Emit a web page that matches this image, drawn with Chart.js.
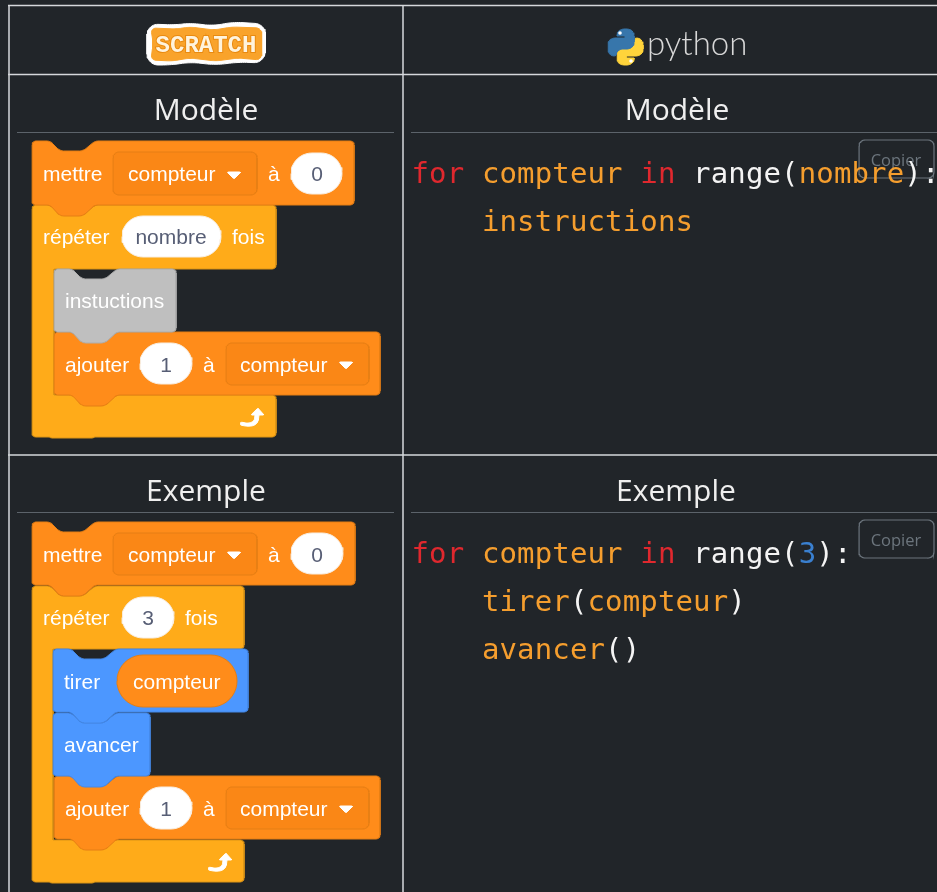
<!DOCTYPE html>
<html>
<head>
<meta charset="utf-8">
<script src="https://cdn.jsdelivr.net/npm/chart.js@4"></script>
<style>
    html, body { margin: 0; padding: 0; background: #212529; overflow: hidden; }
    canvas { display: block; }
</style>
</head>
<body>
<canvas id="sheet" width="937" height="892"></canvas>
<script>
// texts of the table
const headerTitles = ["Modèle", "Exemple"];
const modelBlockLabels = ["mettre", "compteur", "à", "0", "répéter", "nombre", "fois", "instuctions", "ajouter", "1", "à", "compteur"];
const exampleBlockLabels = ["mettre", "compteur", "à", "0", "répéter", "3", "fois", "tirer", "compteur", "avancer", "ajouter", "1", "à", "compteur"];
const buttonLabel = "Copier";
const modelCode = [
    [["for ", "kw"], ["compteur ", "var"], ["in ", "kw"], ["range(", "txt"], ["nombre", "var"], ["):", "txt"]],
    [["    ", "txt"], ["instructions", "var"]]
];
const exampleCode = [
    [["for ", "kw"], ["compteur ", "var"], ["in ", "kw"], ["range(", "txt"], ["3", "num"], ["):", "txt"]],
    [["    ", "txt"], ["tirer", "var"], ["(", "txt"], ["compteur", "var"], [")", "txt"]],
    [["    ", "txt"], ["avancer", "var"], ["()", "txt"]]
];

const ORANGE = ["#FF8C1A", "#E57E14"];
const CONTROL = ["#FFAB19", "#DB9416"];
const BLUE = ["#4C97FF", "#4488E6"];
const GREY = ["#BFBFBF", "#ADADAD"];
const CODE_COLORS = { kw: "#E0282E", var: "#F59E2E", txt: "#F4F4F4", num: "#3A80D0" };
const LABEL_FONT = "21px 'Liberation Sans'";
const CODE_FONT = "29px 'DejaVu Sans Mono'";

// turn a corner list into a smooth outline (conic corners, true arcs on square corners)
function rounded(vertices, radius) {
    const out = [];
    const n = vertices.length;
    const w = 0.7071;
    vertices.forEach((v, i) => {
        const prev = vertices[(i + n - 1) % n];
        const next = vertices[(i + 1) % n];
        const r = v[2] === undefined ? radius : v[2];
        const d1 = Math.hypot(v[0] - prev[0], v[1] - prev[1]);
        const d2 = Math.hypot(v[0] - next[0], v[1] - next[1]);
        const t1 = Math.min(r, d1 / 2) / d1;
        const t2 = Math.min(r, d2 / 2) / d2;
        const a = [v[0] + (prev[0] - v[0]) * t1, v[1] + (prev[1] - v[1]) * t1];
        const b = [v[0] + (next[0] - v[0]) * t2, v[1] + (next[1] - v[1]) * t2];
        for (let s = 0; s <= 10; s++) {
            const u = s / 10;
            const k0 = (1 - u) * (1 - u), k1 = 2 * u * (1 - u) * w, k2 = u * u;
            const sum = k0 + k1 + k2;
            out.push({
                x: (k0 * a[0] + k1 * v[0] + k2 * b[0]) / sum,
                y: (k0 * a[1] + k1 * v[1] + k2 * b[1]) / sum
            });
        }
    });
    out.push(out[0]);
    return out;
}

function notchTop(x, y) {
    return [[x + 18, y, 3], [x + 28, y + 10, 4], [x + 51, y + 10, 4], [x + 63, y, 3]];
}
function tabBottom(x, y) {
    return [[x + 63, y, 3], [x + 51, y + 11, 4], [x + 28, y + 11, 4], [x + 18, y, 3]];
}
function stackBlock(x0, y0, x1, y1) {
    return [[x0, y0], ...notchTop(x0, y0), [x1, y0], [x1, y1], ...tabBottom(x0, y1), [x0, y1]];
}
function loopBlock(x0, y0, x1, armY, inner, lowY, y1) {
    return [[x0, y0], ...notchTop(x0, y0), [x1, y0], [x1, armY], [inner, armY, 0], [inner, lowY, 0], [x1, lowY], [x1, y1],
        [x0 + 62, y1, 1], [x0 + 61, y1 + 1, 1], [x0 + 19, y1 + 1, 1], [x0 + 18, y1, 1], [x0, y1]];
}
function box(x0, y0, x1, y1, r) {
    return [[x0, y0, r], [x1, y0, r], [x1, y1, r], [x0, y1, r]];
}
function turnArrow(x, y) {
    return [[x + 8, y - 10, 1], [x + 14, y - 3, 1], [x + 9, y - 3, 0], [x + 8, y + 5, 6], [x + 1, y + 9, 6], [x - 10, y + 7, 2],
        [x - 9, y + 4, 1], [x - 2, y + 5.5, 3], [x + 4.5, y + 3, 4], [x + 5, y - 3, 0], [x + 1, y - 3, 1]];
}

const shapes = [];
function addShape(vertices, radius, fill, stroke, width) {
    shapes.push({
        data: rounded(vertices, radius),
        fill: fill ? "shape" : false,
        backgroundColor: fill || "transparent",
        borderColor: stroke || fill,
        borderWidth: width === undefined ? 1 : width,
        pointRadius: 0,
        showLine: true,
        tension: 0,
        clip: false
    });
}
function addRule(x0, y0, x1, y1, color, width) {
    shapes.push({
        data: [{ x: x0, y: y0 }, { x: x1, y: y1 }],
        borderColor: color,
        borderWidth: width,
        pointRadius: 0,
        showLine: true,
        clip: false
    });
}

// first dataset is painted last, so the top layer comes first
function addDropdown(x0, y0, x1, y1, triX, triY) {
    addShape([[triX, triY], [triX + 14, triY], [triX + 7, triY + 7]], 1.5, "#FFFFFF");
    addShape(box(x0, y0, x1, y1, 6), 6, "#FA8716", "#E57E14");
}
function addPill(x0, y0, x1, y1) {
    addShape(box(x0, y0, x1, y1, 21), 21, "#FFFFFF", "#F8EEE2");
}

// scratch column, modele
addDropdown(113, 152, 257, 195, 227, 172);
addPill(291, 153, 342, 194);
addPill(122, 216, 221, 257);
addPill(140, 343, 192, 384);
addDropdown(226, 343, 369, 385, 339, 362);
addShape(turnArrow(250, 418), 2, "#FFFFFF");
addShape(stackBlock(32, 141, 354, 205), 4, ...ORANGE);
addShape(stackBlock(54, 269, 176, 332), 4, ...GREY);
addShape(stackBlock(54, 332, 380, 395), 4, ...ORANGE);
addShape(loopBlock(32, 205, 276, 269, 54, 395, 437), 4, ...CONTROL);

// scratch column, exemple
addDropdown(113, 533, 257, 575, 227, 552);
addPill(291, 533, 343, 574);
addPill(122, 597, 174, 638);
addShape(box(117, 655, 237, 707, 26), 26, "#FF8C1A", "#E57E14");
addPill(140, 787, 192, 829);
addDropdown(226, 787, 369, 829, 339, 806);
addShape(turnArrow(218, 863), 2, "#FFFFFF");
addShape(stackBlock(32, 522, 355, 585), 4, ...ORANGE);
addShape(stackBlock(53, 649, 248, 712), 4, ...BLUE);
addShape(stackBlock(53, 713, 150, 776), 4, ...BLUE);
addShape(stackBlock(54, 776, 380, 839), 4, ...ORANGE);
addShape(loopBlock(32, 586, 244, 649, 53, 840, 882), 4, ...CONTROL);

// copy buttons
addShape(box(859, 140, 934, 178, 6), 6, null, "#6C757D", 1.2);
addShape(box(859, 520, 934, 558, 6), 6, null, "#6C757D", 1.2);

// scratch logo, wobbly sticker outline
addShape([[151, 28], [176, 29], [190, 27], [214, 30], [232, 27], [261, 28], [262, 43], [261, 60], [238, 58], [216, 61], [190, 58], [172, 61], [151, 60], [153, 44]], 5, "#F9A32B");
addShape([[148, 24], [176, 25], [190, 23], [214, 26], [232, 22], [265, 24], [266, 43], [264, 63], [238, 62], [216, 65], [190, 62], [172, 65], [148, 65], [146, 44]], 10, "#FFFFFF");

// python logo
const snake = [[617, 33], [621, 29], [630, 29], [634, 33], [634, 45], [630, 49], [620, 49], [616, 53], [616, 56], [612, 56], [608, 52], [608, 42], [612, 38], [625, 38, 0], [625, 36, 0], [617, 36, 0]];
shapes.push({
    data: [{ x: 620, y: 33 }, { x: 631, y: 61 }],
    showLine: false,
    pointRadius: 1.8,
    pointBackgroundColor: "#FFFFFF",
    pointBorderWidth: 0,
    clip: false
});
addShape(snake, 3, "#3776AB");
addShape(snake.map(p => [1251 - p[0], 94 - p[1], p[2]]), 3, "#FFD43B");

// table rules
addRule(17, 132.5, 394, 132.5, "#5C636A", 1);
addRule(411, 132.5, 937, 132.5, "#5C636A", 1);
addRule(17, 512.5, 394, 512.5, "#5C636A", 1);
addRule(411, 512.5, 937, 512.5, "#5C636A", 1);
addRule(8, 5.5, 937, 5.5, "#D5D8DB", 1.5);
addRule(8, 74.5, 937, 74.5, "#D5D8DB", 1.5);
addRule(8, 455, 937, 455, "#D5D8DB", 1.5);
addRule(9, 5, 9, 892, "#D5D8DB", 1.5);
addRule(403, 5, 403, 892, "#D5D8DB", 1.5);

const modelLabelSpots = [[43, 181], [128, 181], [268, 181], [317, 181, "center"], [43, 244], [171, 244, "center"], [232, 244], [65, 308], [65, 372], [166, 372, "center"], [203, 372], [240, 372]];
const exampleLabelSpots = [[43, 562], [128, 562], [268, 562], [317, 562, "center"], [43, 625], [148, 625, "center"], [185, 625], [64, 689], [133, 689], [64, 752], [65, 816], [166, 816, "center"], [203, 816], [240, 816]];
const inputLabels = ["0", "1", "3", "nombre"];

const tablePainter = {
    id: "tablePainter",
    afterDatasetsDraw(chart) {
        const ctx = chart.ctx;
        const px = v => chart.scales.x.getPixelForValue(v);
        const py = v => chart.scales.y.getPixelForValue(v);

        function put(text, x, y, font, color, align) {
            ctx.font = font;
            ctx.fillStyle = color;
            ctx.textAlign = align || "left";
            ctx.textBaseline = "alphabetic";
            ctx.fillText(text, px(x), py(y));
        }

        ctx.save();

        // column headers
        const headFont = "30px 'Open Sans'";
        put(headerTitles[0], 206, 120, headFont, "#EFEFEF", "center");
        put(headerTitles[0], 677, 120, headFont, "#EFEFEF", "center");
        put(headerTitles[1], 206, 501, headFont, "#EFEFEF", "center");
        put(headerTitles[1], 676, 501, headFont, "#EFEFEF", "center");

        // logos
        const logoFont = "bold 24px 'Liberation Mono'";
        ctx.lineWidth = 2;
        ctx.strokeStyle = "#E98A10";
        ctx.font = logoFont;
        ctx.textAlign = "center";
        ctx.strokeText("SCRATCH", px(206), py(52));
        put("SCRATCH", 206, 52, logoFont, "#FFF3DC", "center");
        put("python", 647, 55, "300 33px 'Lato'", "#D8D8D8");

        // block labels
        modelBlockLabels.forEach((t, i) => {
            const s = modelLabelSpots[i];
            put(t, s[0], s[1], LABEL_FONT, inputLabels.includes(t) ? "#575E75" : "#FFFFFF", s[2]);
        });
        exampleBlockLabels.forEach((t, i) => {
            const s = exampleLabelSpots[i];
            put(t, s[0], s[1], LABEL_FONT, inputLabels.includes(t) ? "#575E75" : "#FFFFFF", s[2]);
        });

        // copy buttons sit under the code
        put(buttonLabel, 896, 166, "16.5px 'Open Sans'", "#6C757D", "center");
        put(buttonLabel, 896, 546, "16.5px 'Open Sans'", "#6C757D", "center");

        // code
        function putCode(lines, firstBase) {
            ctx.letterSpacing = "0.14px";
            lines.forEach((tokens, row) => {
                let col = 0;
                tokens.forEach(tok => {
                    put(tok[0], 411.5 + col * 17.6, firstBase + row * 48, CODE_FONT, CODE_COLORS[tok[1]]);
                    col += tok[0].length;
                });
            });
            ctx.letterSpacing = "0px";
        }
        putCode(modelCode, 183);
        putCode(exampleCode, 563);

        ctx.restore();
    }
};

new Chart(document.getElementById("sheet").getContext("2d"), {
    type: "scatter",
    data: { datasets: shapes },
    options: {
        responsive: false,
        animation: false,
        events: [],
        layout: { padding: 0, autoPadding: false },
        plugins: { legend: { display: false }, tooltip: { enabled: false } },
        scales: {
            x: { type: "linear", min: 0, max: 937, display: false },
            y: { type: "linear", min: 0, max: 892, reverse: true, display: false }
        }
    },
    plugins: [tablePainter]
});
</script>
</body>
</html>
